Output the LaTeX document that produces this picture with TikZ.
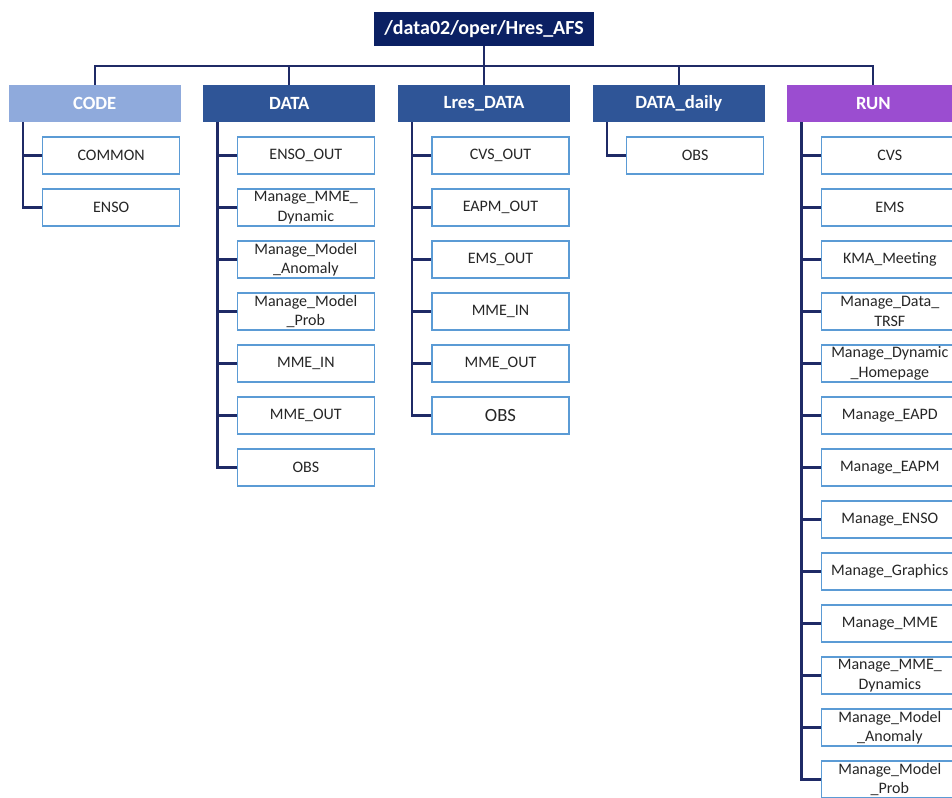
\documentclass[tikz,border=0pt]{standalone}
\usepackage{fontspec}
\setmainfont{Carlito}
\usetikzlibrary{calc,trees}
\definecolor{rootblue}{HTML}{0B2063}
\definecolor{datablue}{HTML}{2F5597}
\definecolor{codeblue}{HTML}{8FAADC}
\definecolor{runpurple}{RGB}{155,77,208}
\definecolor{boxline}{HTML}{5B9BD5}
\definecolor{treeline}{HTML}{1F2A66}
\begin{document}
\begin{tikzpicture}[
x=0.75pt, y=-0.75pt,
every node/.style={rectangle, align=center, inner sep=0pt},
rootbox/.style={fill=rootblue, text=white, minimum width=165pt, minimum height=25.5pt, font=\fontsize{15}{16}\selectfont\bfseries},
topbox/.style={fill=#1, text=white, minimum width=129pt, minimum height=27.75pt, font=\fontsize{14}{15}\selectfont\bfseries},
topbox/.default=datablue,
leaf/.style={draw=boxline, fill=white, line width=1.1pt, text=black!85, minimum width=102.75pt, minimum height=27.75pt, font=\fontsize{12}{14.5}\selectfont},
edge from parent/.style={draw=treeline, line width=1.7pt},
level 1/.style={level distance=55.9pt, sibling distance=146pt,
  edge from parent path={(\tikzparentnode.south) -- +(0,20) -| (\tikzchildnode.north)}},
level 2/.style={grow via three points={one child at (16.5,52) and two children at (16.5,52) and (16.5,104)},
  edge from parent path={($(\tikzparentnode.south west)+(14.5,0)$) |- (\tikzchildnode.west)}},
]
\useasboundingbox (0,0) rectangle (952,798);
\clip (0,0) rectangle (952,798);

  \node[rootbox] (root) at (484,29) {/data02/oper/Hres\_AFS}
    child {node[topbox=codeblue] (code) {CODE}
    	child {node[leaf] (code-common) {COMMON}}
    	child {node[leaf] (code-enso) {ENSO}}
    }
    child {node[topbox] (data) {DATA}
    	child {node[leaf] (data-enso) {ENSO\_OUT}}
    	child {node[leaf] (data-mmedyn) {Manage\_MME\_\\Dynamic}}
    	child {node[leaf] (data-anom) {Manage\_Model\\\_Anomaly}}
    	child {node[leaf] (data-prob) {Manage\_Model\\\_Prob}}
    	child {node[leaf] (data-mmein) {MME\_IN}}
    	child {node[leaf] (data-mmeout) {MME\_OUT}}
    	child {node[leaf] (data-obs) {OBS}}
    }
    child {node[topbox] (lres) {Lres\_DATA}
    	child {node[leaf] (lres-cvs) {CVS\_OUT}}
    	child {node[leaf] (lres-eapm) {EAPM\_OUT}}
    	child {node[leaf] (lres-ems) {EMS\_OUT}}
    	child {node[leaf] (lres-mmein) {MME\_IN}}
    	child {node[leaf] (lres-mmeout) {MME\_OUT}}
    	child {node[leaf, font=\fontsize{14}{14}\selectfont] (lres-obs) {OBS}}
    }
    child {node[topbox] (daily) {DATA\_daily}
    	child {node[leaf] (daily-obs) {OBS}}
    }
    child {node[topbox=runpurple] (run) {RUN}
    	child {node[leaf] (run-cvs) {CVS}}
    	child {node[leaf] (run-ems) {EMS}}
    	child {node[leaf] (run-kma) {KMA\_Meeting}}
    	child {node[leaf] (run-trsf) {Manage\_Data\_\\TRSF}}
    	child {node[leaf] (run-home) {Manage\_Dynamic\\\_Homepage}}
    	child {node[leaf] (run-eapd) {Manage\_EAPD}}
    	child {node[leaf] (run-eapm) {Manage\_EAPM}}
    	child {node[leaf] (run-enso) {Manage\_ENSO}}
    	child {node[leaf] (run-graph) {Manage\_Graphics}}
    	child {node[leaf] (run-mme) {Manage\_MME}}
    	child {node[leaf] (run-mmedyn) {Manage\_MME\_\\Dynamics}}
    	child {node[leaf] (run-anom) {Manage\_Model\\\_Anomaly}}
    	child {node[leaf] (run-prob) {Manage\_Model\\\_Prob}}
    }
;
\end{tikzpicture}
\end{document}
